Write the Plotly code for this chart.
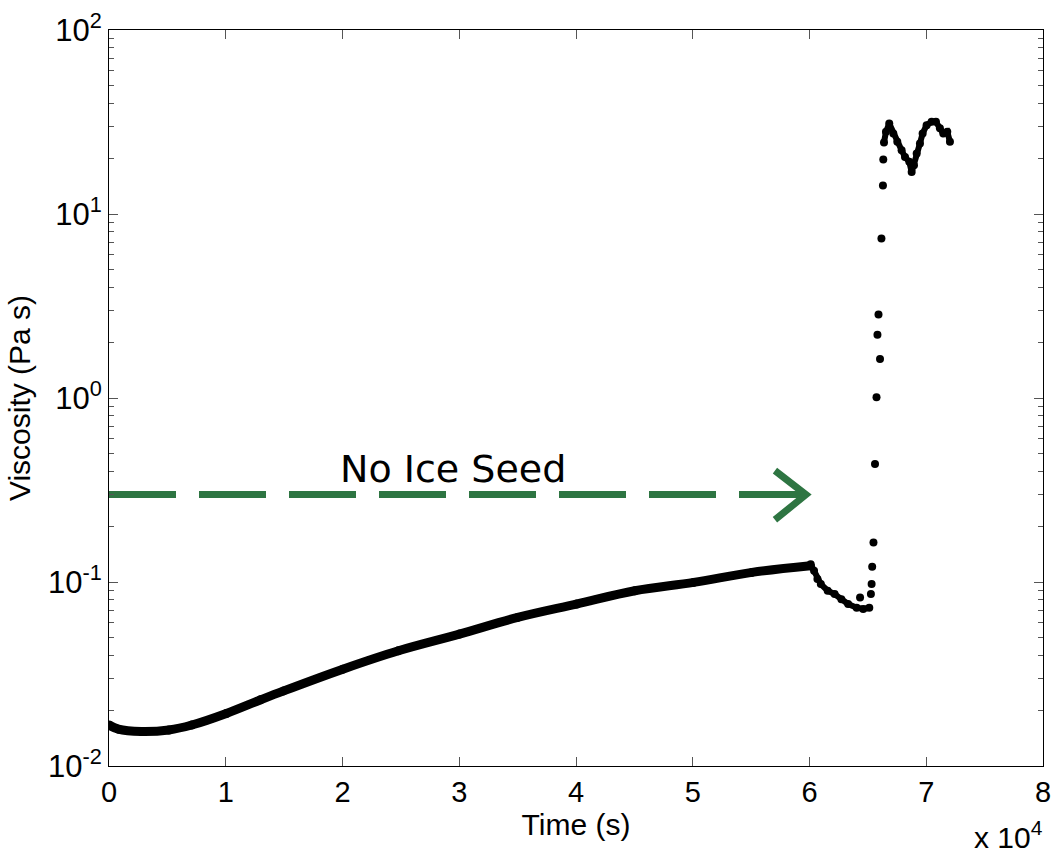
import plotly.graph_objects as go
import numpy as np

# ---- data ----
t_base = [0, 800, 2770, 5130, 7090, 10050, 12990, 14960, 20030, 24790, 30020,
          35010, 40050, 45040, 50080, 55070, 60070]
v_base = [0.0167, 0.01585, 0.0154, 0.0157, 0.0167, 0.0193, 0.0229, 0.0256, 0.0336,
          0.0423, 0.0521, 0.0642, 0.0759, 0.0896, 0.0995, 0.1128, 0.1226]

t_dip = [60100, 60390, 60680, 60970, 61560, 62150, 62730, 63310, 64040, 64600, 65120]
v_dip = [0.1250, 0.115, 0.1037, 0.0974, 0.0896, 0.086, 0.0807, 0.0759, 0.0725, 0.0713, 0.0725]

t_spike = [64330, 65260, 65320, 65370, 65480, 65610, 65740, 65820, 65910, 66040,
           66160, 66290, 66320]
v_spike = [0.0824, 0.086, 0.0975, 0.121, 0.164, 0.438, 1.01, 2.21, 2.84, 1.63,
           7.35, 14.3, 19.8]

t_top = [66380, 66550, 66830, 67180, 67520, 67890, 68180, 68550, 68750, 68950,
         69180, 69460, 69690, 70030, 70460, 70830, 71170, 71460, 71800, 72030]
v_top = [24.5, 28.0, 31.0, 27.4, 24.7, 22.2, 20.4, 19.2, 16.9, 18.4,
         21.3, 24.2, 27.4, 30.4, 31.7, 31.7, 29.2, 27.4, 28.0, 24.7]

# annotation arrow ("No Ice Seed")
arrow_line_t = [0, 59700]
arrow_line_v = [0.2985, 0.2985]
arrow_head_t = [57040, 59700, 57040]
arrow_head_v = [0.403, 0.2985, 0.218]
arrow_label = "No Ice Seed"

x_tickvals = [0, 10000, 20000, 30000, 40000, 50000, 60000, 70000, 80000]
x_ticktext = ["0", "1", "2", "3", "4", "5", "6", "7", "8"]
y_tickvals = [0.01, 0.1, 1, 10, 100]
y_ticktext = ["10<sup>-2</sup>", "10<sup>-1</sup>", "10<sup>0</sup>",
              "10<sup>1</sup>", "10<sup>2</sup>"]
y_minor = [m * 10.0 ** k for k in range(-2, 2) for m in range(2, 10)]

GREEN = "rgb(46,117,66)"
FONT = "Liberation Sans, Arial, sans-serif"

fig = go.Figure()

fig.add_trace(go.Scatter(x=t_base, y=v_base, mode="lines+markers",
                         line=dict(color="black", width=9, shape="spline"),
                         marker=dict(color="black", size=9)))
fig.add_trace(go.Scatter(x=t_dip, y=v_dip, mode="lines+markers",
                         line=dict(color="black", width=6),
                         marker=dict(color="black", size=8)))
fig.add_trace(go.Scatter(x=t_spike, y=v_spike, mode="markers",
                         marker=dict(color="black", size=8)))
fig.add_trace(go.Scatter(x=t_top, y=v_top, mode="lines+markers",
                         line=dict(color="black", width=6),
                         marker=dict(color="black", size=8)))

fig.add_trace(go.Scatter(x=arrow_line_t, y=arrow_line_v, mode="lines",
                         line=dict(color=GREEN, width=7, dash="67px,23px")))
fig.add_trace(go.Scatter(x=arrow_head_t, y=arrow_head_v, mode="lines",
                         line=dict(color=GREEN, width=7)))

fig.add_annotation(x=29500, y=np.log10(0.41), xref="x", yref="y",
                   text=arrow_label, showarrow=False,
                   font=dict(family="DejaVu Sans", size=38, color="black"))

fig.add_annotation(x=1.002, y=-0.094, xref="paper", yref="paper",
                   xanchor="right", yanchor="middle",
                   text="x 10<sup>4</sup>", showarrow=False,
                   font=dict(family=FONT, size=30, color="black"))

fig.update_layout(
    width=1052, height=853,
    margin=dict(l=109, r=9, t=30, b=87),
    plot_bgcolor="white", paper_bgcolor="white",
    showlegend=False,
    font=dict(family=FONT, color="black", size=28),
)

fig.update_xaxes(
    automargin=False,
    range=[0, 80000], tickmode="array", tickvals=x_tickvals, ticktext=x_ticktext,
    ticks="inside", ticklen=9, tickcolor="#555", tickwidth=1,
    showline=True, linecolor="black", linewidth=1, mirror="ticks",
    showgrid=False, zeroline=False,
    tickfont=dict(size=29),
    title=dict(text="Time (s)", font=dict(size=30), standoff=6),
)
fig.update_yaxes(
    automargin=False,
    type="log", range=[-2, 2], tickmode="array", tickvals=y_tickvals, ticktext=y_ticktext,
    ticks="inside", ticklen=9, tickcolor="#555", tickwidth=1,
    minor=dict(ticks="inside", ticklen=5, tickcolor="#555", tickmode="array",
               tickvals=y_minor, showgrid=False),
    showline=True, linecolor="black", linewidth=1, mirror="ticks",
    showgrid=False, zeroline=False,
    tickfont=dict(size=31),
    title=dict(text="Viscosity (Pa s)", font=dict(size=30), standoff=8),
)

fig.write_html("out.html")
